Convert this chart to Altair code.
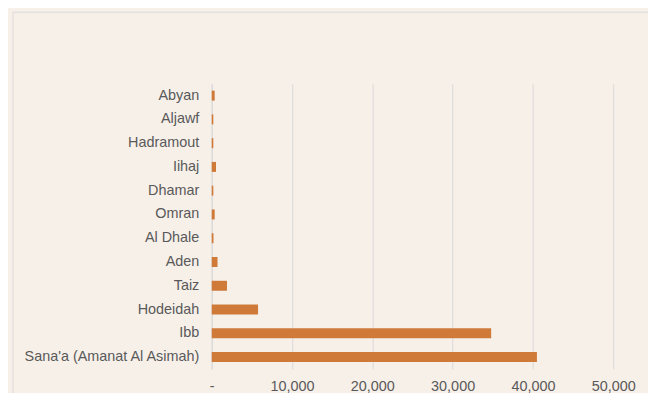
import altair as alt
import pandas as pd

regions = ["Abyan", "Aljawf", "Hadramout", "Iihaj", "Dhamar", "Omran", "Al Dhale",
           "Aden", "Taiz", "Hodeidah", "Ibb", "Sana'a (Amanat Al Asimah)"]
values = [370, 200, 200, 530, 200, 370, 220, 720, 1900, 5770, 34800, 40500]
x_ticks = [0, 10000, 20000, 30000, 40000, 50000]

df = pd.DataFrame({"region": regions, "value": values})

FONT = "Liberation Sans"
TEXT = "#595959"
GRID = "#d9d9d9"

frame = alt.Chart(pd.DataFrame({"a": [0]})).mark_rect(
    fill="transparent", stroke=GRID, strokeWidth=1
).encode(
    x=alt.value(-200), x2=alt.value(520),
    y=alt.value(-72), y2=alt.value(420)
)

bars = alt.Chart(df).mark_bar(color="#d07a3a").encode(
    x=alt.X("value:Q",
            scale=alt.Scale(domain=[0, 50000], nice=False),
            axis=alt.Axis(values=x_ticks, title=None, grid=True, gridColor=GRID,
                          domain=False, ticks=False, labelPadding=11, labelFlush=False,
                          labelExpr="datum.value == 0 ? '-' : format(datum.value, ',')",
                          labelFont=FONT, labelFontSize=14.5, labelColor=TEXT)),
    y=alt.Y("region:N", sort=regions,
            scale=alt.Scale(paddingInner=0.58, paddingOuter=0.29),
            axis=alt.Axis(title=None, ticks=False, domain=True, domainColor=GRID,
                          labelPadding=13, labelFont=FONT, labelFontSize=14.5,
                          labelColor=TEXT))
)

chart = alt.layer(frame, bars).properties(
    width=404, height=287,
    padding={"left": 205, "top": 75, "right": 35, "bottom": 23},
    autosize=alt.AutoSizeParams(type="none"),
    background="#f7f0e9"
).configure_view(stroke=None)

chart.save("out.html", embed_options={"renderer": "svg", "actions": False})
